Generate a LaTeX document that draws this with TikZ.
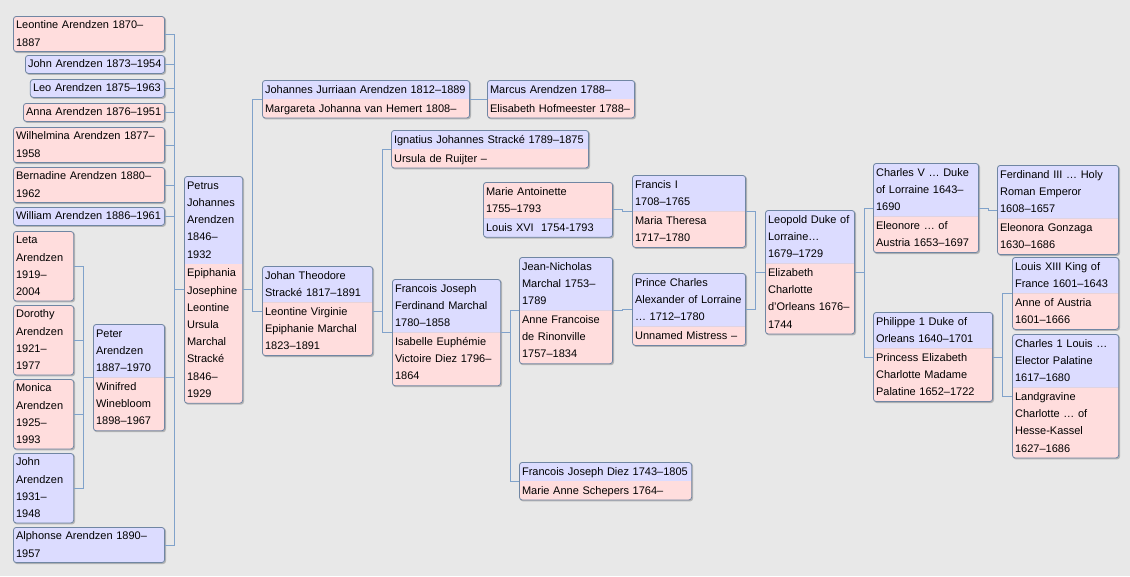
\documentclass[tikz,border=0pt]{standalone}
\usepackage{fontspec}
\setmainfont{Liberation Sans}
\usetikzlibrary{shapes.multipart}
\usetikzlibrary{calc}
\usetikzlibrary{backgrounds}

\definecolor{bg}{RGB}{232,232,232}
\definecolor{male}{RGB}{220,220,255}
\definecolor{female}{RGB}{255,221,221}
\definecolor{boxline}{RGB}{112,134,163}
\definecolor{linkblue}{RGB}{128,162,202}

\newcommand{\spouses}[2]{\strut#1\strut\nodepart{two}\strut#2\strut}

\tikzset{
  person/.style={draw=boxline, line width=0.6pt, rounded corners=2.2pt,
    inner xsep=2pt, inner ysep=0.3pt, align=left, anchor=north west,
    font=\fontsize{8.25}{12.9}\selectfont,
    execute at begin node=\strut, execute at end node=\strut},
  man/.style={person, fill=male, text width=#1},
  woman/.style={person, fill=female, text width=#1},
  couple/.style={person, rectangle split, rectangle split parts=2,
    rectangle split draw splits=false,
    rectangle split part fill={male,female}, text width=#1},
  wifefirst/.style={rectangle split part fill={female,male}},
  link/.style={draw=linkblue, line width=0.75pt,
    to path={-| ($(\tikztostart)!.5!(\tikztotarget)$) |- (\tikztotarget)}},
  boxshadow/.style={fill=black, opacity=0.22, rounded corners=2.2pt},
}

\begin{document}
\begin{tikzpicture}[x=0.75pt,y=-0.75pt]
  \useasboundingbox (0,0) rectangle (1130,576);

  % children of Petrus and Epiphania
  \node[woman=109.4pt, anchor=north east] (leontine)   at (165,16)  {Leontine Arendzen 1870--\\1887};
  \node[man=100.4pt,   anchor=north east] (john)       at (165,55)  {John Arendzen 1873--1954};
  \node[man=96.7pt,    anchor=north east] (leo)        at (165,79)  {Leo Arendzen 1875--1963};
  \node[woman=101.9pt, anchor=north east] (anna)       at (165,103) {Anna Arendzen 1876--1951};
  \node[woman=109.4pt, anchor=north east] (wilhelmina) at (165,127) {Wilhelmina Arendzen 1877--\\1958};
  \node[woman=109.4pt, anchor=north east] (bernadine)  at (165,167) {Bernadine Arendzen 1880--\\1962};
  \node[man=109.4pt,   anchor=north east] (william)    at (165,207) {William Arendzen 1886--1961};
  \node[man=109.4pt,   anchor=north east] (alphonse)   at (165,527) {Alphonse Arendzen 1890--\\1957};
  \node[couple=49.4pt] (peter) at (93,324)
    {\spouses{Peter\\Arendzen\\1887--1970}{Winifred\\Winebloom\\1898--1967}};

  % children of Peter and Winifred
  \node[woman=41.2pt] (leta)    at (13,231) {Leta\\Arendzen\\1919--\\2004};
  \node[woman=41.2pt] (dorothy) at (13,305) {Dorothy\\Arendzen\\1921--\\1977};
  \node[woman=41.2pt] (monica)  at (13,379) {Monica\\Arendzen\\1925--\\1993};
  \node[man=41.2pt]   (john2)   at (13,453) {John\\Arendzen\\1931--\\1948};

  % root couple
  \node[couple=39.7pt] (petrus) at (184,176)
    {\spouses{Petrus\\Johannes\\Arendzen\\1846--\\1932}{Epiphania\\Josephine\\Leontine\\Ursula\\Marchal\\Stracké\\1846--\\1929}};

  % ancestors
  \node[couple=151.4pt] (johannes) at (262,80)
    {\spouses{Johannes Jurriaan Arendzen 1812--1889}{Margareta Johanna van Hemert 1808--}};
  \node[couple=106.4pt] (marcus) at (487,80)
    {\spouses{Marcus Arendzen 1788--}{Elisabeth Hofmeester 1788--}};
  \node[couple=78.7pt] (johan) at (262,266)
    {\spouses{Johan Theodore\\Stracké 1817--1891}{Leontine Virginie\\Epiphanie Marchal\\1823--1891}};
  \node[couple=143.9pt] (ignatius) at (391,130)
    {\spouses{Ignatius Johannes Stracké 1789--1875}{Ursula de Ruijter --}};
  \node[couple=77.2pt] (francois) at (392,279)
    {\spouses{Francois Joseph\\Ferdinand Marchal\\1780--1858}{Isabelle Euphémie\\Victoire Diez 1796--\\1864}};
  \node[couple=65.9pt] (jean) at (519,257)
    {\spouses{Jean-Nicholas\\Marchal 1753--\\1789}{Anne Francoise\\de Rinonville\\1757--1834}};
  \node[couple=125.2pt] (diez) at (519,462)
    {\spouses{Francois Joseph Diez 1743--1805}{Marie Anne Schepers 1764--}};
  \node[couple=80.9pt] (charles) at (632,273)
    {\spouses{Prince Charles\\Alexander of Lorraine\\… 1712--1780}{Unnamed Mistress --}};
  \node[couple=92.9pt, wifefirst] (antoinette) at (483,182)
    {\spouses{Marie Antoinette\\1755--1793}{Louis XVI\ \ 1754-1793}};
  \node[couple=80.9pt] (francis) at (632,175)
    {\spouses{Francis I\\1708--1765}{Maria Theresa\\1717--1780}};
  \node[couple=62.9pt] (leopold) at (765,210)
    {\spouses{Leopold Duke of\\Lorraine…\\1679--1729}{Elizabeth\\Charlotte\\d'Orleans 1676--\\1744}};
  \node[couple=74.9pt] (charlesv) at (873,163)
    {\spouses{Charles V … Duke\\of Lorraine 1643--\\1690}{Eleonore … of\\Austria 1653--1697}};
  \node[couple=86.9pt] (ferdinand) at (997,165)
    {\spouses{Ferdinand III … Holy\\Roman Emperor\\1608--1657}{Eleonora Gonzaga\\1630--1686}};
  \node[couple=85.4pt] (philippe) at (873,312)
    {\spouses{Philippe 1 Duke of\\Orleans 1640--1701}{Princess Elizabeth\\Charlotte Madame\\Palatine 1652--1722}};
  \node[couple=75.7pt] (louis) at (1012,257)
    {\spouses{Louis XIII King of\\France 1601--1643}{Anne of Austria\\1601--1666}};
  \node[couple=75.7pt] (elector) at (1012,334)
    {\spouses{Charles 1 Louis …\\Elector Palatine\\1617--1680}{Landgravine\\Charlotte … of\\Hesse-Kassel\\1627--1686}};

  % connectors
  \path[link] (leontine.east)   edge (petrus.west)
              (john.east)       edge (petrus.west)
              (leo.east)        edge (petrus.west)
              (anna.east)       edge (petrus.west)
              (wilhelmina.east) edge (petrus.west)
              (bernadine.east)  edge (petrus.west)
              (william.east)    edge (petrus.west)
              (peter.east)      edge (petrus.west)
              (alphonse.east)   edge (petrus.west)
              (leta.east)       edge (peter.west)
              (dorothy.east)    edge (peter.west)
              (monica.east)     edge (peter.west)
              (john2.east)      edge (peter.west)
              (petrus.east)     edge (johannes.west)
                                edge (johan.west)
              (johannes.east)   edge (marcus.west)
              (johan.east)      edge (ignatius.west)
                                edge (francois.west)
              (francois.east)   edge (jean.west)
                                edge (diez.west)
              (jean.east)       edge (charles.west)
              (antoinette.east) edge (francis.west)
              (francis.east)    edge (leopold.west)
              (charles.east)    edge (leopold.west)
              (leopold.east)    edge (charlesv.west)
                                edge (philippe.west)
              (charlesv.east)   edge (ferdinand.west)
              (philippe.east)   edge (louis.west)
                                edge (elector.west);

  % page and box shadows
  \begin{scope}[on background layer]
    \fill[bg] (0,0) rectangle (1130,576);
    \foreach \n in {leontine,john,leo,anna,wilhelmina,bernadine,william,alphonse,peter,
                    leta,dorothy,monica,john2,petrus,johannes,marcus,johan,ignatius,
                    francois,jean,diez,charles,antoinette,francis,leopold,charlesv,
                    ferdinand,philippe,louis,elector}
      \path[boxshadow] ($(\n.south west)+(1,1)$) rectangle ($(\n.north east)+(1,1)$);
  \end{scope}
\end{tikzpicture}
\end{document}
